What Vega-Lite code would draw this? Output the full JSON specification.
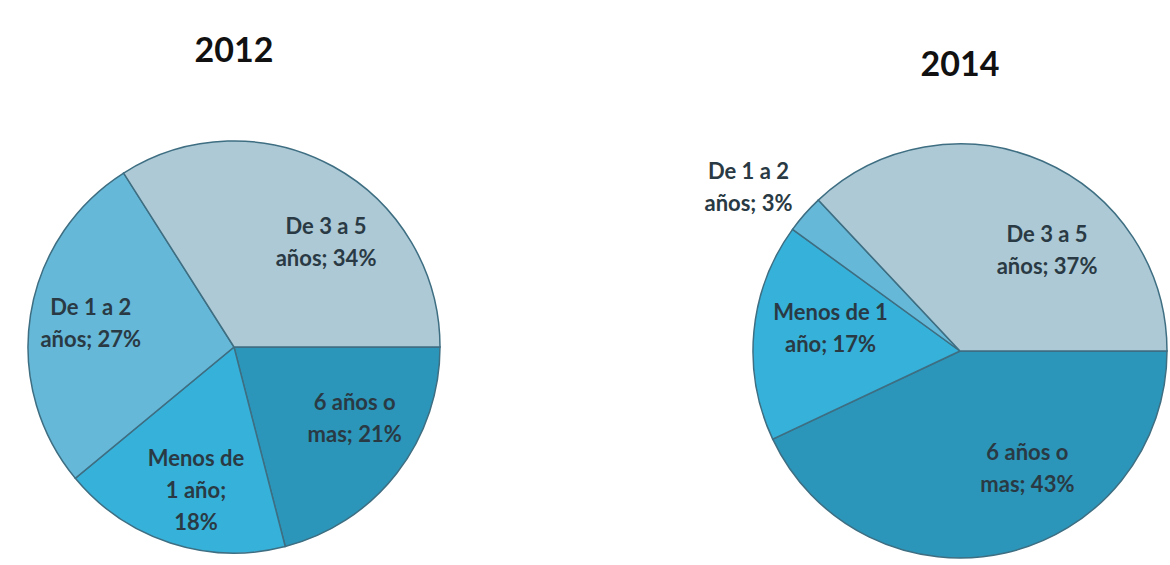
{
  "$schema": "https://vega.github.io/schema/vega-lite/v6.json",
  "padding": {"left": 0, "top": 35, "right": 0, "bottom": 0},
  "background": "#ffffff",
  "bounds": "flush",
  "spacing": 282,
  "config": {"view": {"stroke": null}, "text": {"font": "Lato", "fontSize": 22, "fontWeight": "bold", "lineHeight": 32, "baseline": "middle"}},
  "datasets": {
    "d2012": [
      {"cat": "6 años o mas", "ord": 1, "pct": 21, "label": ["6 años o", "mas; 21%"]},
      {"cat": "Menos de 1 año", "ord": 2, "pct": 18, "label": ["Menos de", "1 año;", "18%"]},
      {"cat": "De 1 a 2 años", "ord": 3, "pct": 27, "label": ["De 1 a 2", "años; 27%"]},
      {"cat": "De 3 a 5 años", "ord": 4, "pct": 34, "label": ["De 3 a 5", "años; 34%"]}
    ],
    "d2014": [
      {"cat": "6 años o mas", "ord": 1, "pct": 43, "label": ["6 años o", "mas; 43%"]},
      {"cat": "Menos de 1 año", "ord": 2, "pct": 17, "label": ["Menos de 1", "año; 17%"]},
      {"cat": "De 1 a 2 años", "ord": 3, "pct": 3, "label": ["De 1 a 2", "años; 3%"]},
      {"cat": "De 3 a 5 años", "ord": 4, "pct": 37, "label": ["De 3 a 5", "años; 37%"]}
    ]
  },
  "hconcat": [
    {
      "width": 468,
      "height": 412,
      "title": {"text": "2012", "font": "Lato", "fontSize": 34, "fontWeight": "bold", "color": "#111111", "offset": 69},
      "data": {"name": "d2012"},
      "encoding": {
        "theta": {"field": "pct", "type": "quantitative", "stack": true, "scale": {"domain": [0, 100], "range": [1.5708, 7.854]}},
        "order": {"field": "ord", "type": "quantitative"},
        "color": {"field": "cat", "type": "nominal", "legend": null,
          "scale": {"domain": ["6 años o mas", "Menos de 1 año", "De 1 a 2 años", "De 3 a 5 años"],
                    "range": ["#2b96b9", "#36b1d9", "#66b8d8", "#adc9d6"]}}
      },
      "layer": [
        {"mark": {"type": "arc", "outerRadius": 206, "stroke": "#3e6e82", "strokeWidth": 1.5}},
        {"mark": {"type": "text", "radius": 135, "dx": 27, "dy": -2},
         "encoding": {"text": {"condition": {"test": "datum.cat === 'De 3 a 5 años'", "field": "label"}, "value": ""}, "color": {"value": "#2a3a44"}}},
        {"mark": {"type": "text", "radius": 140, "dx": 10, "dy": -30},
         "encoding": {"text": {"condition": {"test": "datum.cat === '6 años o mas'", "field": "label"}, "value": ""}, "color": {"value": "#2a3a44"}}},
        {"mark": {"type": "text", "radius": 149, "dx": 8, "dy": -30},
         "encoding": {"text": {"condition": {"test": "datum.cat === 'Menos de 1 año'", "field": "label"}, "value": ""}, "color": {"value": "#2a3a44"}}},
        {"mark": {"type": "text", "radius": 145, "dy": -16},
         "encoding": {"text": {"condition": {"test": "datum.cat === 'De 1 a 2 años'", "field": "label"}, "value": ""}, "color": {"value": "#2a3a44"}}}
      ]
    },
    {
      "width": 420,
      "height": 420,
      "title": {"text": "2014", "font": "Lato", "fontSize": 34, "fontWeight": "bold", "color": "#111111", "offset": 10},
      "data": {"name": "d2014"},
      "encoding": {
        "theta": {"field": "pct", "type": "quantitative", "stack": true, "scale": {"domain": [0, 100], "range": [1.5708, 7.854]}},
        "order": {"field": "ord", "type": "quantitative"},
        "color": {"field": "cat", "type": "nominal", "legend": null,
          "scale": {"domain": ["6 años o mas", "Menos de 1 año", "De 1 a 2 años", "De 3 a 5 años"],
                    "range": ["#2b96b9", "#36b1d9", "#66b8d8", "#adc9d6"]}}
      },
      "layer": [
        {"mark": {"type": "arc", "outerRadius": 207, "stroke": "#3e6e82", "strokeWidth": 1.5}},
        {"mark": {"type": "text", "radius": 126, "dx": 37, "dy": 0},
         "encoding": {"text": {"condition": {"test": "datum.cat === 'De 3 a 5 años'", "field": "label"}, "value": ""}, "color": {"value": "#2a3a44"}}},
        {"mark": {"type": "text", "radius": 130, "dx": 39, "dy": -25},
         "encoding": {"text": {"condition": {"test": "datum.cat === '6 años o mas'", "field": "label"}, "value": ""}, "color": {"value": "#2a3a44"}}},
        {"mark": {"type": "text", "radius": 130, "dx": 0, "dy": -26},
         "encoding": {"text": {"condition": {"test": "datum.cat === 'Menos de 1 año'", "field": "label"}, "value": ""}, "color": {"value": "#2a3a44"}}},
        {"mark": {"type": "text", "radius": 266, "dx": -12, "dy": -3},
         "encoding": {"text": {"condition": {"test": "datum.cat === 'De 1 a 2 años'", "field": "label"}, "value": ""}, "color": {"value": "#2a3a44"}}}
      ]
    }
  ]
}
